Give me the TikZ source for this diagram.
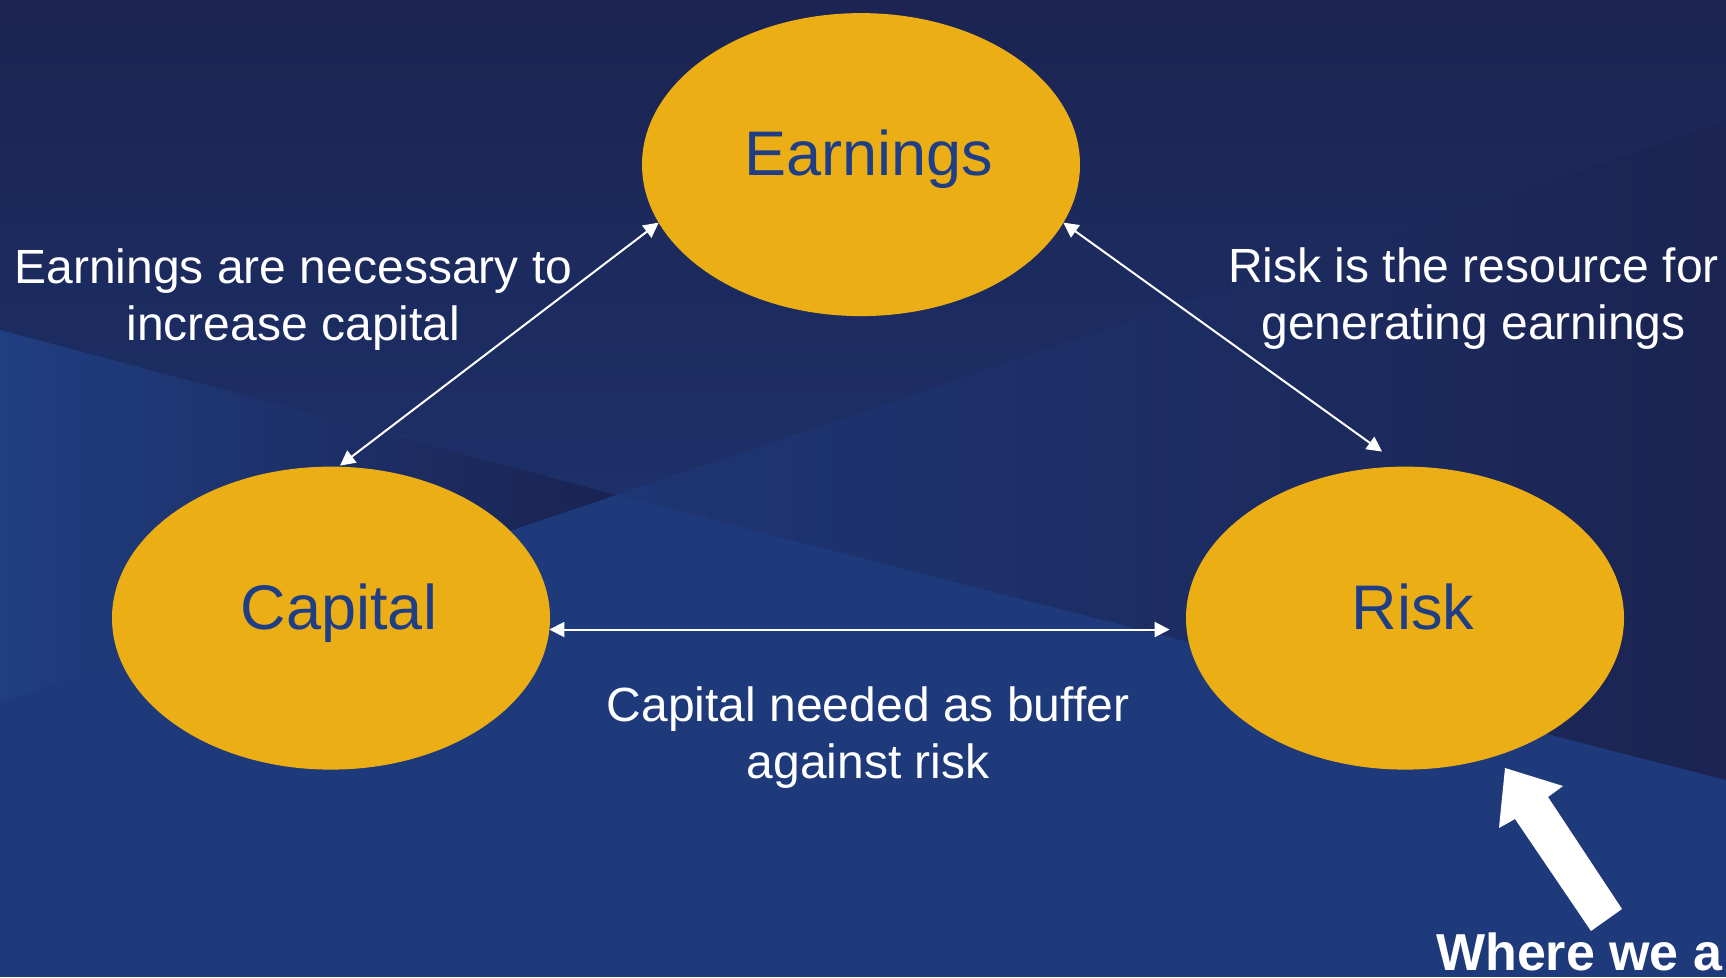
\documentclass[tikz,border=0pt]{standalone}
\usepackage{fontspec}
\setmainfont{Liberation Sans}
\usetikzlibrary{arrows.meta,shapes.geometric}

\definecolor{bgbase}{HTML}{1F3A7A}
\definecolor{bgdark}{HTML}{1B2452}
\definecolor{bgmid}{HTML}{1D3068}
\definecolor{bglight}{HTML}{203E80}
\definecolor{bgshadow}{HTML}{1A2352}
\definecolor{bgcross}{HTML}{1E3674}
\definecolor{gold}{HTML}{EBAF15}
\definecolor{inkblue}{HTML}{1F3E85}

\begin{document}
\begin{tikzpicture}[x=1pt, y=-1pt,
  bubble/.style={ellipse, fill=gold, minimum width=438pt, minimum height=303pt,
    inner sep=0pt, outer sep=0pt, text=inkblue, text height=46pt, text depth=24pt,
    font=\fontsize{63}{70}\selectfont},
  caption/.style={align=center, anchor=north, inner sep=0pt, text=white,
    font=\fontsize{48}{57.5}\selectfont},
  link/.style={draw=white, line width=2pt,
    {Triangle[length=15pt,width=15pt]}-{Triangle[length=15pt,width=15pt]}},
  pointer/.style={fill=white}
]
% page frame
\useasboundingbox (0,0) rectangle (1726,977);
\clip (0,0) rectangle (1726,977);

% backdrop: two crossing diagonal bands
\fill[bgbase] (0,0) rectangle (1726,977);
\shade[top color=bgdark, bottom color=bgmid]
  (0,0) -- (1726,0) -- (1726,121) -- (616,495) -- (0,330) -- cycle;
\shade[left color=bglight, middle color=bglight, right color=bgshadow]
  (0,330) -- (616,495) -- (0,703) -- cycle;
\shade[left color=bgcross, middle color=bgbase, right color=bgdark]
  (616,495) -- (1726,121) -- (1726,780) -- cycle;

% the three quantities
\node[bubble] (earn) at (861,164.6) {\hspace*{16pt}Earnings};
\node[bubble] (cap)  at (331,618.1) {\hspace*{16pt}Capital};
\node[bubble] (risk) at (1405,618.1) {\hspace*{16pt}Risk};

% two-way links
\draw[link] ([xshift=9pt,yshift=1pt]cap.north) -- (earn.196.6);
\draw[link] (earn.-16.6) -- ([xshift=-23pt,yshift=15pt]risk.north);
\draw[link] (cap.-3.9) -- ([xshift=-17pt]risk.183.9);

% link captions
\node[caption] (capearn) at (293.4,243)
  {\rule{0pt}{40pt}Earnings are necessary to\\increase capital};
\node[caption] (earnrisk) at (1473.5,242)
  {\rule{0pt}{40pt}Risk is the resource for\\generating earnings};
\node[caption] (caprisk) at (868,681)
  {\rule{0pt}{40pt}Capital needed as buffer\\against risk};

% pointer to the risk bubble
\fill[pointer] (1505,768) -- (1563,786) -- (1548,797) -- (1622,909)
  -- (1591,931) -- (1515,819) -- (1499,828) -- cycle;
\node[anchor=base west, inner sep=0pt, text=white,
  font=\fontsize{52}{60}\selectfont\bfseries] (here) at (1436,970) {Where we a};
\end{tikzpicture}
\end{document}
